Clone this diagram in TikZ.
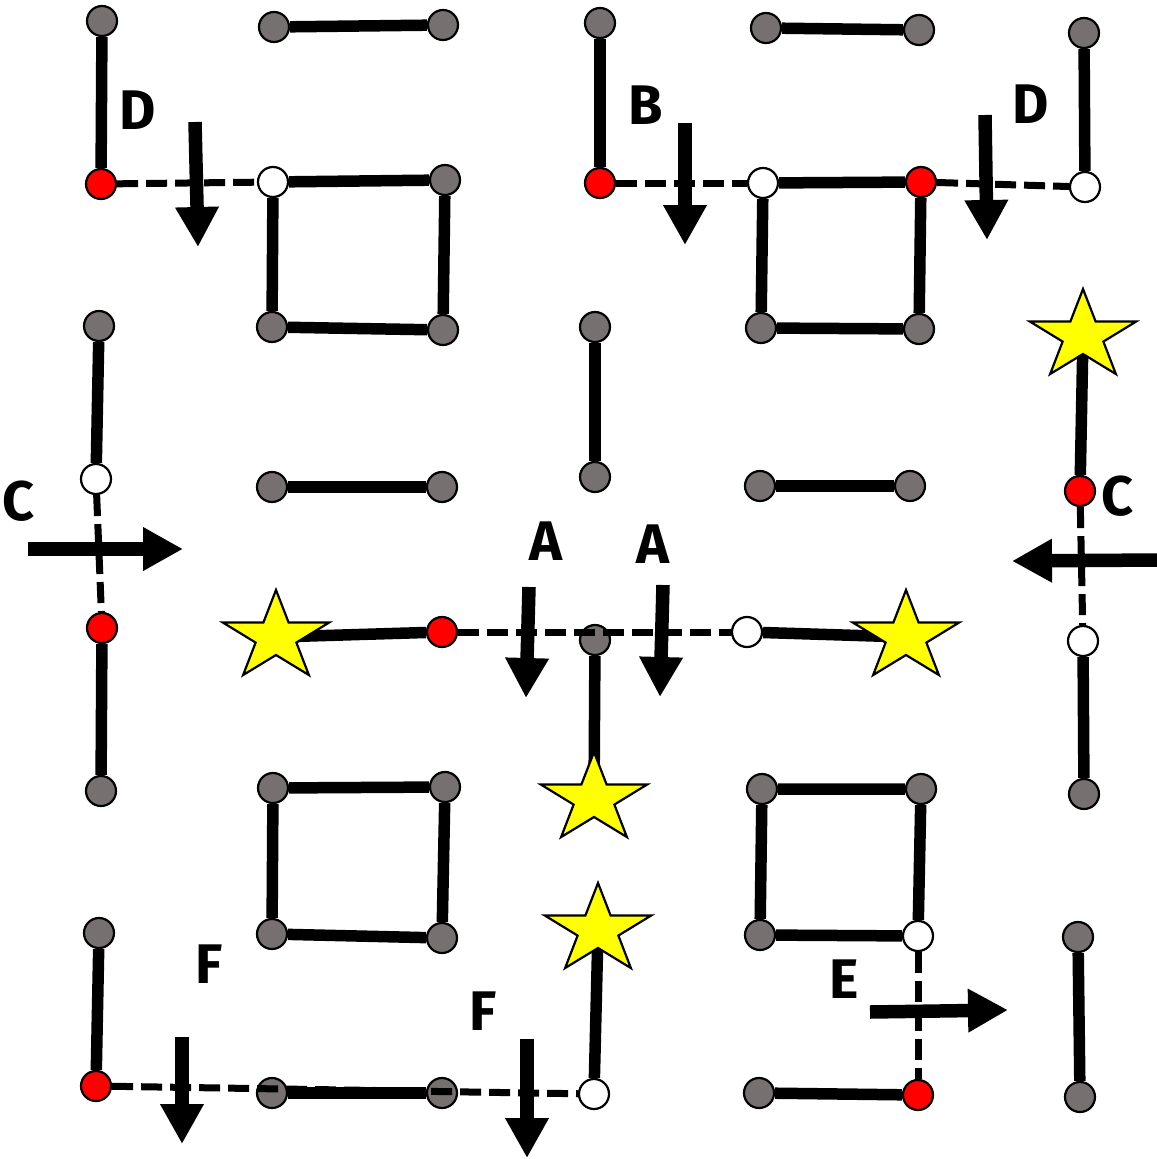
\documentclass[tikz,border=0pt]{standalone}
\usepackage{fontspec}
\setsansfont{Fira Sans}
\usetikzlibrary{arrows.meta}
\definecolor{siteGray}{RGB}{118,113,112}
\definecolor{siteRed}{RGB}{255,0,0}
\definecolor{siteYellow}{RGB}{255,255,0}
\tikzset{
  site/.style={circle, draw=black, line width=2.2bp, minimum size=30bp, inner sep=0pt},
  gsite/.style={site, fill=siteGray},
  rsite/.style={site, fill=siteRed},
  wsite/.style={site, fill=white},
  bond/.style={line width=11.5bp},
  dbond/.style={line width=7bp, dash pattern=on 21bp off 8bp},
  push/.style={line width=13.5bp, -{Triangle[length=40bp,width=41bp]}},
  letter/.style={font=\sffamily\bfseries\fontsize{56}{60}\selectfont, inner sep=0pt},
  sun/.pic={\draw[fill=siteYellow, line width=2.2bp, xscale=1.19, yscale=-1]
    (90:47) -- (126:18) -- (162:47) -- (198:18) -- (234:47) -- (270:18)
    -- (306:47) -- (342:18) -- (18:47) -- (54:18) -- cycle;}
}
\begin{document}
\begin{tikzpicture}[x=1bp, y=-1bp]
\useasboundingbox (0,0) rectangle (1157,1159);
\fill[white] (0,0) rectangle (1157,1159);
\node[gsite] (a1) at (102,21) {};
\node[rsite] (a2) at (101,184) {};
\node[gsite] (b1) at (274,27) {};
\node[gsite] (b2) at (443,25) {};
\node[wsite] (c1) at (273,182) {};
\node[gsite] (c2) at (445,180) {};
\node[gsite] (c3) at (443,330) {};
\node[gsite] (c4) at (272,327) {};
\node[gsite] (d1) at (600,23) {};
\node[rsite] (d2) at (600,183) {};
\node[gsite] (e1) at (766,28) {};
\node[gsite] (e2) at (919,30) {};
\node[wsite] (f1) at (763,183) {};
\node[rsite] (f2) at (921,182) {};
\node[gsite] (f3) at (919,329) {};
\node[gsite] (f4) at (761,328) {};
\node[gsite] (h1) at (1084,33) {};
\node[wsite] (h2) at (1085,187) {};
\node[gsite] (i1) at (99,326) {};
\node[wsite] (i2) at (96,479) {};
\node[rsite] (i3) at (102,628) {};
\node[gsite] (i4) at (101,791) {};
\node[gsite] (j1) at (272,487) {};
\node[gsite] (j2) at (442,487) {};
\node[gsite] (k1) at (595,327) {};
\node[gsite] (k2) at (595,477) {};
\node[gsite] (l1) at (760,486) {};
\node[gsite] (l2) at (910,486) {};
\node[rsite] (m1) at (1080,491) {};
\node[wsite] (m2) at (1083,641) {};
\node[gsite] (m3) at (1084,794) {};
\node[rsite] (n1) at (442,632) {};
\node[gsite] (n2) at (595,640) {};
\node[wsite] (n3) at (747,632) {};
\node[gsite] (o1) at (273,788) {};
\node[gsite] (o2) at (445,787) {};
\node[gsite] (o3) at (442,938) {};
\node[gsite] (o4) at (272,934) {};
\node[gsite] (p1) at (762,789) {};
\node[gsite] (p2) at (921,789) {};
\node[wsite] (p3) at (918,936) {};
\node[gsite] (p4) at (760,935) {};
\node[wsite] (q1) at (594,1094) {};
\node[gsite] (r1) at (99,933) {};
\node[rsite] (r2) at (96,1086) {};
\node[gsite] (t1) at (272,1093) {};
\node[gsite] (t2) at (442,1093) {};
\node[gsite] (u1) at (759,1093) {};
\node[rsite] (u2) at (918,1095) {};
\node[gsite] (v1) at (1078,937) {};
\node[gsite] (v2) at (1080,1097) {};
\coordinate (s1) at (1083,336);
\coordinate (s2) at (276,637);
\coordinate (s3) at (594,799);
\coordinate (s4) at (906,637);
\coordinate (s5) at (598,930);
\draw[bond] (a1) -- (a2);
\draw[bond] (b1) -- (b2);
\draw[bond] (c1) -- (c2) -- (c3) -- (c4) -- (c1);
\draw[bond] (d1) -- (d2);
\draw[bond] (e1) -- (e2);
\draw[bond] (f1) -- (f2) -- (f3) -- (f4) -- (f1);
\draw[bond] (h1) -- (h2);
\draw[bond] (i1) -- (i2);
\draw[bond] (i3) -- (i4);
\draw[bond] (j1) -- (j2);
\draw[bond] (k1) -- (k2);
\draw[bond] (l1) -- (l2);
\draw[bond] (s1) -- (m1);
\draw[bond] (m2) -- (m3);
\draw[bond] (s2) -- (n1);
\draw[bond] (n2) -- (s3);
\draw[bond] (n3) -- (s4);
\draw[bond] (o1) -- (o2) -- (o3) -- (o4) -- (o1);
\draw[bond] (p1) -- (p2) -- (p3) -- (p4) -- (p1);
\draw[bond] (s5) -- (q1);
\draw[bond] (r1) -- (r2);
\draw[bond] (t1) -- (t2);
\draw[bond] (u1) -- (u2);
\draw[bond] (v1) -- (v2);
\pic at (s1) {sun};
\pic at (s2) {sun};
\pic at (s3) {sun};
\pic at (s4) {sun};
\pic at (s5) {sun};
\draw[dbond] (a2) -- (c1);
\draw[dbond] (d2) -- (f1);
\draw[dbond] (f2) -- (h2);
\draw[dbond] (i2) -- (i3);
\draw[dbond] (m1) -- (m2);
\draw[dbond] (n1) -- (n3);
\draw[dbond] (r2) -- (q1);
\draw[dbond] (p3) -- (u2);
\coordinate (pD0) at (195,122);
\coordinate (pD1) at (198,247);
\coordinate (pB0) at (685,123);
\coordinate (pB1) at (685,245);
\coordinate (pD2) at (985,115);
\coordinate (pD3) at (987,240);
\coordinate (pC0) at (28,549);
\coordinate (pC1) at (183,549);
\coordinate (pA0) at (529,587);
\coordinate (pA1) at (526,698);
\coordinate (pA2) at (663,585);
\coordinate (pA3) at (660,697);
\coordinate (pC2) at (1157,560);
\coordinate (pC3) at (1012,561);
\coordinate (pF0) at (182,1037);
\coordinate (pF1) at (182,1144);
\coordinate (pF2) at (527,1039);
\coordinate (pF3) at (527,1158);
\coordinate (pE0) at (870,1012);
\coordinate (pE1) at (1008,1010);
\draw[push] (pD0) -- (pD1);
\draw[push] (pB0) -- (pB1);
\draw[push] (pD2) -- (pD3);
\draw[push] (pC0) -- (pC1);
\draw[push] (pA0) -- (pA1);
\draw[push] (pA2) -- (pA3);
\draw[push] (pC2) -- (pC3);
\draw[push] (pF0) -- (pF1);
\draw[push] (pF2) -- (pF3);
\draw[push] (pE0) -- (pE1);
\node[letter] (lD1) at (138,110) {D};
\node[letter] (lB) at (646,105) {B};
\node[letter] (lD2) at (1031,104) {D};
\node[letter] (lC1) at (19,501) {C};
\node[letter] (lA1) at (546,541) {A};
\node[letter] (lA2) at (653,544) {A};
\node[letter] (lC2) at (1118,496) {C};
\node[letter] (lF1) at (209,964) {F};
\node[letter] (lF2) at (483,1011) {F};
\node[letter] (lE) at (844,979) {E};
\end{tikzpicture}
\end{document}
